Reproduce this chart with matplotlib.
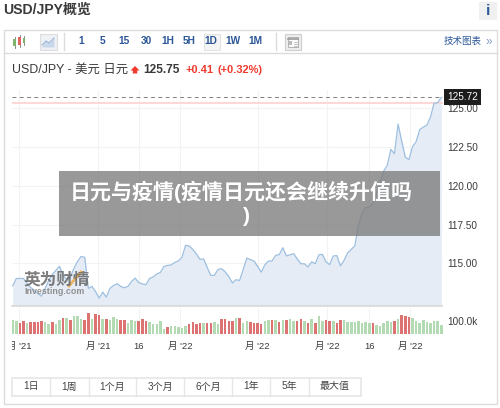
# USD/JPY 行情截图复刻
import matplotlib
matplotlib.use('Agg')
import matplotlib.pyplot as plt
from matplotlib.patches import Rectangle, Polygon
from matplotlib.transforms import Bbox

plt.rcParams['font.family'] = ['Liberation Sans', 'Noto Sans CJK SC', 'DejaVu Sans']

W, H = 500, 408

# 每根K线的收盘价
prices = [113.55, 114.03, 114.03, 114.03, 113.71, 113.45, 113.26, 113.06, 112.89, 113.39,
          113.90, 114.29, 114.55, 114.81, 114.23, 113.97, 114.10, 114.68, 115.13, 115.45,
          115.39, 113.39, 113.52, 113.19, 112.76, 113.15, 112.83, 113.39, 113.58, 113.69,
          113.52, 113.43, 113.52, 113.84, 114.05, 113.77, 113.68, 113.63, 114.03, 114.13,
          114.32, 114.42, 114.81, 114.87, 114.90, 115.06, 115.16, 115.39, 116.16, 116.12,
          115.90, 115.61, 115.26, 115.29, 114.74, 114.23, 114.23, 114.61, 114.66, 114.45,
          114.16, 113.74, 113.95, 113.90, 114.61, 115.34, 115.24, 115.15, 114.81, 114.44,
          114.90, 115.15, 115.15, 115.52, 115.56, 116.01, 115.48, 115.55, 115.63, 115.29,
          114.98, 114.97, 114.77, 115.10, 114.98, 115.55, 115.58, 115.10, 114.92, 115.48,
          115.50, 114.84, 115.19, 115.68, 115.90, 116.13, 117.45, 118.23, 118.58, 118.61,
          118.87, 119.52, 120.23, 120.94, 121.32, 122.34, 122.06, 123.97, 122.87, 121.84,
          121.68, 122.50, 122.83, 123.61, 123.77, 123.90, 124.42, 125.32, 125.34, 125.69]

# 成交量 (千)
volumes = [108, 103, 82, 100, 87, 92, 92, 90, 100, 90, 77, 90, 74, 105, 121, 123, 108, 141, 136, 113,
           105, 159, 113, 154, 144, 118, 113, 108, 128, 118, 108, 108, 87, 105, 100, 100, 113, 100, 92, 77,
           77, 100, 41, 56, 62, 59, 51, 44, 64, 77, 92, 77, 82, 82, 82, 82, 92, 77, 115, 113,
           103, 103, 121, 121, 87, 100, 92, 87, 87, 77, 100, 105, 108, 105, 92, 105, 108, 113, 103, 103,
           113, 100, 82, 118, 82, 136, 103, 105, 103, 100, 82, 108, 105, 92, 90, 92, 97, 82, 90, 87,
           82, 67, 59, 87, 100, 90, 100, 118, 146, 138, 133, 126, 100, 82, 105, 92, 87, 100, 100, 67]
vol_dirs = list('ggrrgrrrrggrggrgrgggrrgrrgrgggrrgggrrrgggggrgggggrrrrgrrggrrrrgrgg'
                'rrrrggrgrgrggrrgrgrggrrgrrggggggggrgggggrgrrrggggggggg')

price_ticks = [115, 117.5, 120, 122.5, 125]
last_price = 125.72
prev_close = 125.35
vol_tick = 100

# 时间轴刻度位置(K线序号)与文字
date_ticks = [1.75, 23.7, 35, 46.5, 68, 87.3, 99, 110.4]
date_labels = ["月 '21", "月 '21", "16", "月 '22", "月 '22", "月 '22", "16", "月 '22"]

toolbar_labels = ['1', '5', '15', '30', '1H', '5H', '1D', '1W', '1M']
toolbar_x = [81, 103, 124, 146, 168, 189, 211, 233, 255]
range_labels = ['1日', '1周', '1个月', '3个月', '6个月', '1年', '5年', '最大值']
range_edges = [12, 50, 89, 136, 184, 232, 270, 309, 361]

BLUE = '#2b5797'
DARK = '#3a3a3a'
RED = '#f03a2e'
UP_GREEN = '#b4dab4'
DOWN_RED = '#dc7272'
LINE = '#9dbfe0'
FILL = '#e5ecf5'
GRID = '#f3f3f3'
BORDER = '#dcdcdc'


def px_axes(left, top, right, bottom, **kw):
    """按像素位置建坐标轴"""
    return fig.add_axes([left / W, 1 - bottom / H, (right - left) / W, (bottom - top) / H], **kw)


fig = plt.figure(figsize=(W / 100, H / 100), dpi=100, facecolor='white')

# 界面底层: 用像素坐标画外框和工具栏
ui = px_axes(0, 0, W, H, zorder=0)
ui.set_xlim(0, W)
ui.set_ylim(H, 0)
ui.axis('off')

ui.text(3, 10, 'USD/JPY概览', fontsize=10.1, fontweight='bold', color=DARK, va='center')
ui.add_patch(Rectangle((479, 2), 18, 18, fc='#f0f0f0', ec='none'))
ui.text(488, 11, 'i', fontsize=11, fontweight='bold', color=BLUE, ha='center', va='center')
ui.add_patch(Rectangle((3.5, 29.5), 493, 374.5, fc='white', ec=BORDER, lw=1))
ui.plot([3.5, 496.5], [53, 53], color=BORDER, lw=1)

# 蜡烛图标
for x, c, t, b in [(14.5, '#7cb56a', 39, 46), (19.5, '#e0645c', 37, 45), (24, '#7cb56a', 38, 43)]:
    ui.plot([x, x], [t - 2.5, b + 2], color='#777777', lw=0.6)
    ui.add_patch(Rectangle((x - 1.3, t), 2.6, b - t, fc=c, ec='none', zorder=3))
# 折线图标
ui.add_patch(Rectangle((39.5, 33.5), 17, 16, fc='#eef1f5', ec='#dddddd', lw=0.8))
ui.fill_between([42, 46, 49, 54], [45, 41, 43, 38], 47, color='#c9d8ea', lw=0)
ui.plot([42, 46, 49, 54], [45, 41, 43, 38], color='#9db8d6', lw=0.8)
ui.plot([64, 64], [33, 50], color=BORDER, lw=1)

ui.add_patch(Rectangle((203.5, 33.5), 16.5, 16, fc='#f4f4f4', ec='#e3e3e3', lw=0.8))
for x, lab in zip(toolbar_x, toolbar_labels):
    ui.text(x, 41.5, lab, fontsize=7.3, fontweight='bold', color=BLUE, ha='center', va='center')
ui.plot([276, 276], [33, 50], color=BORDER, lw=1)

# 表格图标
ui.add_patch(Rectangle((285, 33.5), 16, 16, fc='#ededed', ec='#cfcfcf', lw=0.8))
ui.add_patch(Rectangle((288, 36.5), 10, 10, fc='#fafafa', ec='#999999', lw=0.5))
ui.plot([288, 298], [39, 39], color='#999999', lw=1.2)
for y in [41.5, 43.5, 45.5]:
    ui.plot([293.5, 297], [y, y], color='#aaaaaa', lw=0.5)
ui.add_patch(Rectangle((289, 41), 3, 4, fc='#bbbbbb', ec='none'))

ui.text(444, 41.5, '技术图表', fontsize=6.8, color=BLUE, va='center')
ui.text(485, 41.5, '»', fontsize=8.5, color='#7f9cc5', va='center')

# 报价行
ui.text(12, 70, 'USD/JPY - 美元 日元', fontsize=8.9, color=DARK, va='center')
ui.add_patch(Polygon([(135, 66), (130.5, 70.5), (132.8, 70.5), (132.8, 73.5),
                      (137.2, 73.5), (137.2, 70.5), (139.5, 70.5)], fc=RED, ec='none'))
ui.text(143, 70, '125.75', fontsize=8.6, fontweight='bold', color=DARK, va='center')
ui.text(185, 70, '+0.41', fontsize=7.9, fontweight='bold', color=RED, va='center')
ui.text(217, 70, '(+0.32%)', fontsize=7.9, fontweight='bold', color=RED, va='center')

# 时间范围按钮
ui.add_patch(Rectangle((range_edges[0], 377.5), range_edges[-1] - range_edges[0], 18,
                       fc='white', ec='#e6e6e6', lw=1.2))
for x in range_edges[1:-1]:
    ui.plot([x, x], [377.5, 395.5], color='#e6e6e6', lw=1)
for i, lab in enumerate(range_labels):
    ui.text((range_edges[i] + range_edges[i + 1]) / 2, 386.5, lab, fontsize=7.2, color='#444444',
            ha='center', va='center')

# 价格走势
x_days = list(range(len(prices)))
ax = px_axes(11.5, 90, 442.5, 305.5, zorder=1)
ax.patch.set_alpha(0)
ax.set_xlim(-0.33, 119.33)
ax.set_ylim(112.29, 126.16)
ax.fill_between(x_days, prices, 112.29, color=FILL, lw=0, zorder=1)
ax.plot(x_days, prices, color=LINE, lw=0.9, zorder=3)
ax.axhline(prev_close, color='#fcd6d3', lw=1.3, zorder=2)
ax.axhline(last_price, color='#808080', lw=0.7, dashes=(4, 3.5), zorder=4)
ax.set_xticks(date_ticks)
ax.set_xticklabels([])
ax.set_yticks(price_ticks)
ax.set_yticklabels(['%.2f' % p for p in price_ticks], fontsize=7.2, color=DARK)
ax.yaxis.tick_right()
ax.tick_params(axis='both', length=0, pad=3.5)
ax.grid(True, color=GRID, lw=0.8, zorder=0)
ax.set_axisbelow(True)
for name in ['top', 'left', 'right']:
    ax.spines[name].set_visible(False)
ax.spines['bottom'].set_color('#d8d8d8')
ax.spines['bottom'].set_linewidth(1.2)
ax.text(1.011, last_price, '125.72', transform=ax.get_yaxis_transform(), fontsize=7.2, color='white',
        va='center', ha='left', zorder=6, clip_on=False,
        bbox=dict(boxstyle='square,pad=0.3', fc='#1c1c1c', ec='none'))

# 成交量
vax = px_axes(11.5, 308, 442.5, 334, zorder=1)
vax.patch.set_alpha(0)
vax.set_xlim(-0.33, 119.33)
vax.set_ylim(0, 200)
vax.bar(x_days, volumes, width=0.7, color=[UP_GREEN if d == 'g' else DOWN_RED for d in vol_dirs], zorder=2)
vax.set_xticks(date_ticks)
vax.set_xticklabels(date_labels, fontsize=6.8, color=DARK)
vax.set_yticks([vol_tick])
vax.set_yticklabels(['100.0k'], fontsize=7.2, color=DARK)
vax.yaxis.tick_right()
vax.tick_params(axis='y', length=0, pad=3.5)
vax.tick_params(axis='x', length=0, pad=5.5)
vax.grid(True, axis='x', color=GRID, lw=0.8, zorder=0)
vax.set_axisbelow(True)
for name in vax.spines:
    vax.spines[name].set_visible(False)
# 第一个日期标签在图表左边被截断
first = vax.get_xticklabels()[0]
first.set_clip_box(Bbox([[12, 0], [W, H]]))
first.set_clip_on(True)

# 顶层: 水印和标题横幅
top = px_axes(0, 0, W, H, zorder=5)
top.set_xlim(0, W)
top.set_ylim(H, 0)
top.axis('off')
top.patch.set_alpha(0)

top.text(24, 279.5, '英为财情', fontsize=12, fontweight='bold', color='#666666', alpha=0.85, va='center')
top.plot([69, 75, 81], [286, 279, 272], color='#f0a63c', lw=2, alpha=0.8)
top.text(24, 291.5, 'Investing.com', fontsize=6.4, fontweight='bold', color='#808080', alpha=0.85, va='center')

top.add_patch(Rectangle((59, 171), 381, 65, fc='#7c7c7c', ec='none', alpha=0.78))
top.text(241, 191.5, '日元与疫情(疫情日元还会继续升值吗', fontsize=15.1, fontweight='bold', color='white',
         ha='center', va='center')
top.text(246, 217, ')', fontsize=15.1, fontweight='bold', color='white', ha='center', va='center')

fig.savefig('out.png', dpi=100)
